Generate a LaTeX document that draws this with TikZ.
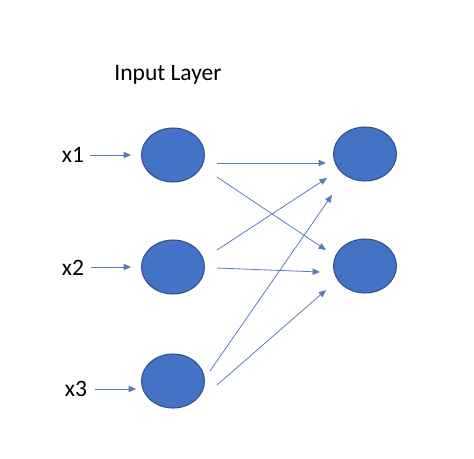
\documentclass[tikz,border=0pt]{standalone}
\usepackage{fontspec}
\setmainfont{Carlito}
\usetikzlibrary{arrows.meta, shapes.geometric, calc}
\definecolor{unit}{HTML}{4472C4}
\definecolor{unitrim}{HTML}{2F528F}
\definecolor{wire}{HTML}{5B7BB8}

\begin{document}
\begin{tikzpicture}[
    x=0.02cm, y=-0.02cm,
    >={Triangle[length=4.2pt, width=3.6pt]},
    lab/.style={font=\fontsize{13.4}{16}\selectfont, text=black, inner sep=0pt},
    neuron/.style={ellipse, fill=unit, draw=unitrim, line width=0.6pt,
                   minimum width=1.26cm, minimum height=1.08cm, inner sep=0pt},
    wire/.style={->, draw=wire, line width=0.45pt},
]
\useasboundingbox (0,0) rectangle (474,458);

\node[lab] (title) at (168,75) {Input Layer};

\node[neuron] (i1) at (173,155) {};
\node[neuron] (i2) at (173,267) {};
\node[neuron] (i3) at (173,381) {};

\node[neuron] (o1) at (365,154) {};
\node[neuron] (o2) at (365,266) {};

\node[lab] (x1) at (73,155) {x1};
\node[lab] (x2) at (73,268) {x2};
\node[lab] (x3) at (76,389) {x3};

\draw[wire] ($(x1)+(17,0)$) -- ($(i1)+(-42,0)$);
\draw[wire] ($(x2)+(18,-1)$) -- ($(i2)+(-42,0)$);
\draw[wire] ($(x3)+(19,0)$) -- ($(i3)+(-37,8)$);

\draw[wire] ($(i1)+(44,8)$)   -- ($(o1)+(-39,9)$);
\draw[wire] ($(i1)+(44,22)$)  -- ($(o2)+(-39,-16)$);
\draw[wire] ($(i2)+(44,-17)$) -- ($(o1)+(-38,24)$);
\draw[wire] ($(i2)+(44,1)$)   -- ($(o2)+(-45,6)$);
\draw[wire] ($(i3)+(37,-10)$) -- ($(o1)+(-33,41)$);
\draw[wire] ($(i3)+(44,4)$)   -- ($(o2)+(-39,24)$);

\end{tikzpicture}
\end{document}
